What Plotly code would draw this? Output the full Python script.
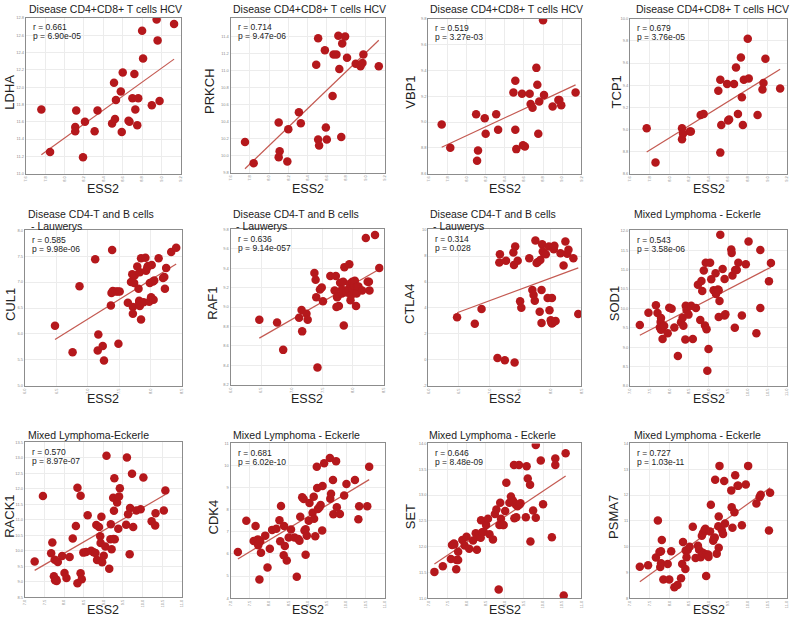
import numpy as np
import plotly.graph_objects as go

W, H = 791, 623
RED = "#b5181c"
LINE_RED = "#c45a52"
FONT = "Liberation Sans, Arial, Helvetica, sans-serif"

# ---------------- data ----------------
hcv_title = "Disease CD4+CD8+ T cells HCV"
lau_title1 = "Disease CD4-T and B cells"
lau_title2 = "- Lauwerys"
eck_title = "Mixed Lymphoma - Eckerle"
eck_title_b = "Mixed Lymphoma-Eckerle"

hcv_xticks = [7.6, 7.8, 8.0, 8.2, 8.4, 8.6, 8.8, 9.0, 9.2]
lau_xticks = [6.0, 6.5, 7.0, 7.5, 8.0, 8.5]
eck_xticks = [7.0, 7.5, 8.0, 8.5, 9.0, 9.5, 10.0, 10.5, 11.0]

ldha_x = [7.76,7.85,8.12,8.11,8.11,8.21,8.19,8.34,8.31,8.49,8.52,8.51,8.53,8.58,8.60,8.59,8.66,8.67,8.70,8.72,8.73,8.75,8.76,8.80,8.81,8.90,8.95,8.96,8.98,9.13]
ldha_y = [11.74,11.25,11.73,11.54,11.49,11.60,11.19,11.73,11.49,11.58,11.63,12.05,11.85,11.95,12.17,11.48,11.61,11.60,11.87,12.15,11.74,11.56,11.87,12.65,12.33,11.79,12.78,12.54,11.84,12.73]
ldha_yticks = [11.0,11.2,11.4,11.6,11.8,12.0,12.2,12.4,12.6,12.8]

prkch_x = [7.75,7.84,8.10,8.11,8.10,8.19,8.20,8.31,8.33,8.49,8.51,8.51,8.52,8.58,8.59,8.60,8.66,8.67,8.70,8.72,8.73,8.75,8.76,8.79,8.81,8.90,8.95,8.97,8.98,9.14]
prkch_y = [10.16,9.91,10.39,10.05,9.98,9.93,10.31,10.51,10.38,11.07,11.38,10.19,10.12,11.24,10.33,10.19,10.70,11.19,11.19,11.41,11.02,10.22,11.32,11.40,11.15,11.08,11.05,11.09,11.19,11.05]
prkch_yticks = [9.8,10.0,10.2,10.4,10.6,10.8,11.0,11.2,11.4]

vbp1_x = [7.74,7.83,8.10,8.12,8.11,8.19,8.20,8.31,8.33,8.49,8.51,8.51,8.52,8.58,8.59,8.61,8.66,8.67,8.69,8.73,8.74,8.75,8.76,8.80,8.81,8.90,8.96,8.97,8.99,9.14]
vbp1_y = [8.98,8.80,9.06,8.78,8.70,9.03,8.91,9.06,8.94,9.23,9.32,8.94,8.79,9.22,8.82,8.81,9.22,9.14,9.11,9.42,9.29,8.91,9.16,9.79,9.21,9.12,9.17,9.17,9.13,9.23]
vbp1_yticks = [8.6,8.8,9.0,9.2,9.4,9.6,9.8]

tcp1_x = [7.77,7.86,8.13,8.13,8.14,8.21,8.22,8.32,8.35,8.50,8.52,8.52,8.53,8.59,8.60,8.61,8.66,8.68,8.70,8.73,8.74,8.75,8.76,8.80,8.81,8.90,8.95,8.96,8.98,9.13]
tcp1_y = [9.01,8.70,9.01,8.91,8.96,8.98,8.98,9.13,9.14,9.35,9.45,8.79,9.04,9.41,9.08,9.09,9.41,9.56,9.14,9.65,9.29,9.04,9.45,9.82,9.46,9.13,9.36,9.42,9.64,9.37]
tcp1_yticks = [8.6,8.8,9.0,9.2,9.4,9.6,9.8,10.0]

cul1_x = [6.48,6.76,6.87,7.12,7.16,7.17,7.24,7.26,7.37,7.39,7.38,7.40,7.45,7.48,7.49,7.51,7.64,7.69,7.71,7.72,7.72,7.74,7.75,7.79,7.81,7.82,7.82,7.83,7.83,7.85,7.85,7.89,7.92,7.93,7.95,7.96,7.98,7.99,8.01,8.02,8.04,8.05,8.06,8.13,8.20,8.22,8.23,8.25,8.33,8.41]
cul1_y = [6.16,5.65,6.92,7.44,5.68,5.99,5.77,5.49,6.55,7.62,6.79,6.83,6.82,6.82,5.81,6.82,6.60,7.00,7.15,6.52,6.39,6.98,7.13,7.30,6.87,6.60,6.64,6.54,7.19,6.28,7.46,6.61,7.47,7.22,7.28,7.31,6.62,6.98,6.71,7.33,7.01,6.66,7.03,7.46,7.08,7.10,6.87,7.27,7.58,7.66]
cul1_yticks = [5.0,5.5,6.0,6.5,7.0,7.5,8.0]

raf1_x = [6.47,6.76,6.86,7.12,7.16,7.17,7.24,7.26,7.37,7.39,7.40,7.42,7.46,7.49,7.51,7.63,7.70,7.72,7.73,7.74,7.75,7.77,7.79,7.82,7.82,7.84,7.85,7.86,7.89,7.90,7.93,7.94,7.95,7.96,7.97,7.99,8.00,8.02,8.03,8.05,8.06,8.07,8.09,8.15,8.21,8.24,8.26,8.27,8.36,8.43]
raf1_y = [8.87,8.84,8.56,8.89,8.97,8.75,8.93,8.87,9.35,9.28,9.10,8.38,9.18,9.20,9.06,9.32,9.17,9.32,9.00,9.10,9.11,9.01,9.25,9.14,9.18,9.26,8.81,9.41,9.17,9.15,9.18,9.44,9.24,9.07,9.12,9.26,9.18,9.22,9.27,9.01,9.14,9.21,9.21,9.17,9.71,9.26,9.26,9.17,9.74,9.40]
raf1_yticks = [8.2,8.4,8.6,8.8,9.0,9.2,9.4,9.6,9.8]

ctla4_x = [6.47,6.76,6.87,7.13,7.16,7.17,7.25,7.27,7.39,7.40,7.41,7.42,7.46,7.50,7.52,7.65,7.70,7.72,7.74,7.75,7.77,7.79,7.82,7.83,7.85,7.85,7.86,7.87,7.89,7.92,7.95,7.97,7.98,8.00,8.01,8.02,8.02,8.04,8.05,8.06,8.08,8.16,8.21,8.24,8.27,8.29,8.37,8.45]
ctla4_y = [3.28,2.79,3.92,0.14,7.50,8.14,-0.02,7.63,8.27,7.32,-0.20,8.73,7.63,4.51,4.02,7.83,5.39,5.00,4.56,9.20,7.47,7.55,3.71,7.70,5.39,2.84,8.91,8.35,8.22,8.14,4.77,8.73,3.82,3.05,2.89,2.81,4.77,2.89,8.53,8.79,2.99,8.22,7.27,9.12,8.17,8.48,7.83,3.53]
ctla4_yticks = [-2,0,2,4,6,8,10]

sod1_x = [7.25,7.47,7.66,7.70,7.76,7.78,7.79,7.79,7.83,7.84,7.87,7.96,8.00,8.06,8.13,8.22,8.30,8.34,8.36,8.41,8.42,8.44,8.49,8.56,8.60,8.68,8.73,8.79,8.82,8.84,8.88,8.91,8.93,8.95,8.97,9.00,9.04,9.07,9.13,9.18,9.19,9.21,9.24,9.26,9.26,9.28,9.30,9.36,9.41,9.41,9.43,9.58,9.59,9.61,9.67,9.68,9.72,9.76,9.85,9.95,10.02,10.22,10.32,10.32,10.54,10.59]
sod1_y = [9.57,9.89,10.08,9.88,9.51,9.65,9.75,9.45,9.21,9.52,9.55,9.36,10.02,9.99,9.51,8.77,9.64,9.76,9.55,9.20,10.07,9.96,9.84,10.07,9.21,10.01,10.61,9.70,10.71,10.45,10.98,9.56,11.18,9.46,8.39,8.95,11.18,10.75,10.47,10.91,10.37,10.44,10.49,9.78,10.47,10.19,11.90,11.02,10.76,9.82,9.85,11.52,11.43,10.85,9.50,10.99,10.99,11.18,9.82,11.14,11.73,9.36,11.51,10.01,10.70,11.17]
sod1_yticks = [8.0,8.5,9.0,9.5,10.0,10.5,11.0,11.5,12.0]

rack1_x = [7.25,7.46,7.70,7.67,7.74,7.76,7.77,7.80,7.81,7.84,7.95,8.01,8.06,8.14,8.22,8.30,8.34,8.34,8.42,8.42,8.45,8.49,8.56,8.60,8.69,8.75,8.80,8.82,8.84,8.89,8.92,8.93,8.95,8.97,9.01,9.05,9.08,9.15,9.18,9.19,9.21,9.25,9.26,9.27,9.28,9.29,9.35,9.38,9.40,9.42,9.58,9.60,9.63,9.67,9.68,9.73,9.76,9.84,9.95,10.02,10.23,10.32,10.33,10.54,10.58]
rack1_y = [9.65,11.77,10.27,9.92,9.18,9.71,9.05,9.07,9.02,9.64,9.83,9.28,9.12,9.80,10.40,10.80,12.04,8.95,9.27,11.78,9.08,9.94,9.96,11.15,10.00,9.95,9.93,10.83,9.70,10.77,10.47,10.25,11.10,9.63,9.84,10.14,13.07,9.42,10.37,10.86,10.05,11.71,10.38,11.29,12.34,10.37,11.56,10.71,11.75,12.02,10.84,13.01,11.18,9.89,11.38,12.49,10.77,11.30,11.34,12.37,10.95,10.82,11.21,11.30,11.95]
rack1_yticks = [8.5,9.0,9.5,10.0,10.5,11.0,11.5,12.0,12.5,13.0,13.5]

cdk4_x = [7.19,7.41,7.65,7.60,7.71,7.72,7.77,7.79,7.75,7.90,7.96,8.02,8.08,8.19,8.27,8.29,8.31,8.38,8.39,8.41,8.46,8.51,8.57,8.66,8.72,8.76,8.79,8.81,8.86,8.90,8.92,8.95,8.95,8.98,9.03,9.05,9.13,9.16,9.17,9.20,9.24,9.25,9.27,9.31,9.34,9.38,9.39,9.43,9.58,9.59,9.61,9.66,9.67,9.74,9.76,9.84,9.95,10.01,10.23,10.32,10.34,10.55,10.60]
cdk4_y = [6.09,7.50,7.27,6.59,6.66,6.39,6.57,6.06,4.85,6.83,5.39,6.24,7.09,7.14,7.53,6.57,8.17,5.94,7.26,6.36,5.70,6.74,7.11,6.75,4.97,6.68,6.60,7.68,8.57,8.49,7.06,7.12,5.97,6.83,7.50,8.31,7.86,8.59,7.59,6.80,9.94,8.98,8.04,8.11,8.22,7.06,9.08,10.10,10.34,8.50,8.72,9.35,7.80,10.20,8.11,7.81,8.65,9.17,9.35,7.57,8.16,8.16,9.95]
cdk4_yticks = [4,5,6,7,8,9,10,11]

set_x = [7.16,7.38,7.59,7.62,7.67,7.68,7.73,7.74,7.78,7.78,7.89,7.95,8.00,8.07,8.17,8.24,8.27,8.30,8.34,8.37,8.38,8.41,8.45,8.51,8.56,8.60,8.69,8.74,8.78,8.84,8.86,8.88,8.90,8.95,8.97,9.01,9.04,9.12,9.16,9.20,9.23,9.24,9.25,9.29,9.30,9.33,9.37,9.38,9.41,9.55,9.57,9.60,9.66,9.67,9.74,9.81,9.81,9.94,10.00,10.23,10.32,10.32,10.54,10.59]
set_y = [11.51,11.62,11.76,12.03,12.06,12.04,11.56,11.74,11.74,11.90,12.13,12.02,12.19,11.96,12.12,12.26,11.94,12.19,12.22,12.17,12.51,12.28,12.29,12.42,12.54,12.24,12.14,12.63,12.72,11.17,12.42,12.85,12.54,12.42,12.42,12.69,13.24,12.85,12.97,12.90,12.87,13.58,12.55,12.81,12.57,12.78,13.58,12.81,12.84,12.57,13.56,13.32,13.20,12.10,12.70,13.97,12.56,13.67,12.82,12.18,13.71,13.58,11.05,13.81]
set_yticks = [11.0,11.5,12.0,12.5,13.0,13.5,14.0]

psma7_x = [7.25,7.46,7.66,7.71,7.77,7.79,7.75,7.79,7.81,7.85,7.96,8.00,8.05,8.13,8.21,8.30,8.33,8.35,8.41,8.42,8.44,8.47,8.52,8.60,8.67,8.73,8.76,8.80,8.83,8.84,8.86,8.88,8.90,8.92,8.94,8.94,8.99,9.00,9.04,9.06,9.12,9.14,9.16,9.17,9.21,9.25,9.26,9.26,9.28,9.34,9.37,9.40,9.42,9.58,9.59,9.61,9.66,9.68,9.74,9.76,9.85,9.95,10.01,10.22,10.30,10.33,10.54,10.57]
psma7_y = [9.22,9.28,9.58,11.01,9.21,9.35,9.79,9.82,10.26,8.72,9.33,8.72,9.82,8.42,8.51,8.77,9.33,10.18,9.13,9.85,9.59,9.87,9.99,10.77,9.56,10.03,9.88,9.59,10.42,9.77,10.53,9.73,10.64,10.69,9.69,8.86,9.69,9.60,10.59,11.62,10.23,10.32,10.35,12.59,9.72,10.79,9.96,11.17,13.13,10.63,10.49,12.54,10.90,12.18,11.53,10.73,11.33,12.77,12.36,12.36,10.83,12.41,13.13,11.67,11.92,12.01,10.62,12.09]
psma7_yticks = [8,9,10,11,12,13,14]

genes = ["LDHA", "PRKCH", "VBP1", "TCP1", "CUL1", "RAF1", "CTLA4", "SOD1",
         "RACK1", "CDK4", "SET", "PSMA7"]
r_labels = ["r = 0.661", "r = 0.714", "r = 0.519", "r = 0.679", "r = 0.585", "r = 0.636",
            "r = 0.314", "r = 0.543", "r = 0.570", "r = 0.681", "r = 0.646", "r = 0.727"]
p_labels = ["p = 6.90e-05", "p = 9.47e-06", "p = 3.27e-03", "p = 3.76e-05", "p = 9.98e-06",
            "p = 9.14e-057", "p = 0.028", "p = 3.58e-06", "p = 8.97e-07", "p = 6.02e-10",
            "p = 8.48e-09", "p = 1.03e-11"]

# ---------------- layout of panels (pixels) ----------------
panels = [
    dict(x=ldha_x, y=ldha_y, xt=hcv_xticks, xr=(7.6, 9.2), yt=ldha_yticks, yr=(11.0, 12.8), fmt=".1f",
         box=(23, 179, 15, 172), title=[hcv_title], tx=24, ty=6, ylx=7, xly=188),
    dict(x=prkch_x, y=prkch_y, xt=hcv_xticks, xr=(7.6, 9.2), yt=prkch_yticks, yr=(9.8, 11.62), fmt=".1f",
         box=(229, 384, 15, 171), title=[hcv_title], tx=229, ty=6, ylx=208, xly=188),
    dict(x=vbp1_x, y=vbp1_y, xt=hcv_xticks, xr=(7.6, 9.2), yt=vbp1_yticks, yr=(8.6, 9.8), fmt=".1f",
         box=(428, 582, 16, 172), title=[hcv_title], tx=428, ty=6, ylx=410, xly=188),
    dict(x=tcp1_x, y=tcp1_y, xt=hcv_xticks, xr=(7.6, 9.2), yt=tcp1_yticks, yr=(8.6, 10.0), fmt=".1f",
         box=(631, 789, 16, 172), title=[hcv_title], tx=635, ty=6, ylx=617, xly=188),
    dict(x=cul1_x, y=cul1_y, xt=lau_xticks, xr=(6.0, 8.5), yt=cul1_yticks, yr=(5.0, 8.0), fmt=".1f",
         box=(22, 180, 229, 386), title=[lau_title1, lau_title2], tx=23, ty=213, ylx=7, xly=399),
    dict(x=raf1_x, y=raf1_y, xt=lau_xticks, xr=(6.0, 8.5), yt=raf1_yticks, yr=(8.2, 9.8), fmt=".1f",
         box=(229, 383, 228, 385), title=[lau_title1, lau_title2], tx=229, ty=213, ylx=210, xly=399),
    dict(x=ctla4_x, y=ctla4_y, xt=lau_xticks, xr=(6.0, 8.5), yt=ctla4_yticks, yr=(-2, 10.07), fmt="d",
         box=(428, 582, 228, 386), title=[lau_title1, lau_title2], tx=428, ty=213, ylx=409, xly=399),
    dict(x=sod1_x, y=sod1_y, xt=eck_xticks, xr=(7.0, 11.0), yt=sod1_yticks, yr=(8.0, 12.02), fmt=".1f",
         box=(631, 789, 229, 386), title=[eck_title], tx=633, ty=213, ylx=615, xly=399),
    dict(x=rack1_x, y=rack1_y, xt=eck_xticks, xr=(7.0, 11.0), yt=rack1_yticks, yr=(8.5, 13.5), fmt=".1f",
         box=(22, 180, 443, 599), title=[eck_title_b], tx=23, ty=435, ylx=7, xly=612),
    dict(x=cdk4_x, y=cdk4_y, xt=eck_xticks, xr=(7.0, 11.0), yt=cdk4_yticks, yr=(4, 11), fmt="d",
         box=(229, 384, 444, 600), title=[eck_title], tx=229, ty=435, ylx=212, xly=612),
    dict(x=set_x, y=set_y, xt=eck_xticks, xr=(7.0, 11.0), yt=set_yticks, yr=(11.0, 14.0), fmt=".1f",
         box=(428, 582, 444, 600), title=[eck_title], tx=427, ty=435, ylx=410, xly=612),
    dict(x=psma7_x, y=psma7_y, xt=eck_xticks, xr=(7.0, 11.0), yt=psma7_yticks, yr=(8, 14), fmt="d",
         box=(631, 789, 444, 600), title=[eck_title], tx=633, ty=435, ylx=615, xly=612),
]

fig = go.Figure()
annotations = []
layout = {}


def px(v):
    return v / W


def py(v):
    return 1 - v / H


for i, p in enumerate(panels, start=1):
    xa = "x" if i == 1 else f"x{i}"
    ya = "y" if i == 1 else f"y{i}"
    xs = np.array(p["x"])
    ys = np.array(p["y"])
    slope, icpt = np.polyfit(xs, ys, 1)
    lx = [xs.min(), xs.max()]
    ly = [slope * lx[0] + icpt, slope * lx[1] + icpt]
    fig.add_trace(go.Scatter(x=lx, y=ly, mode="lines", xaxis=xa, yaxis=ya,
                             line=dict(color=LINE_RED, width=1.2), showlegend=False,
                             hoverinfo="skip"))
    fig.add_trace(go.Scatter(x=p["x"], y=p["y"], mode="markers", xaxis=xa, yaxis=ya,
                             marker=dict(size=8.5, color=RED, line=dict(width=0)),
                             showlegend=False))
    L, R, T, B = p["box"]
    layout[f"xaxis{i}"] = dict(
        domain=[px(L), px(R)], anchor=ya, range=list(p["xr"]),
        tickvals=p["xt"], ticktext=[format(v, ".1f") for v in p["xt"]],
        tickangle=-90, tickfont=dict(size=4, color="#8a8a8a", family=FONT),
        showgrid=True, gridcolor="#ececec", gridwidth=1, zeroline=False,
        showline=True, mirror=True, linecolor="#8c8c8c", linewidth=1,
        ticks="", fixedrange=True)
    if p["fmt"] == "d":
        yt_text = [str(int(v)) for v in p["yt"]]
    else:
        yt_text = [format(v, p["fmt"]) for v in p["yt"]]
    layout[f"yaxis{i}"] = dict(
        domain=[py(B), py(T)], anchor=xa, range=list(p["yr"]),
        tickvals=p["yt"], ticktext=yt_text,
        tickfont=dict(size=4, color="#8a8a8a", family=FONT),
        showgrid=True, gridcolor="#ececec", gridwidth=1, zeroline=False,
        showline=True, mirror=True, linecolor="#8c8c8c", linewidth=1,
        ticks="", fixedrange=True)

    for k, line in enumerate(p["title"]):
        annotations.append(dict(
            text=line, xref="paper", yref="paper",
            x=px(p["tx"] + (3 if k > 0 else 0)), y=py(p["ty"] + 12 * k),
            xanchor="left", yanchor="middle", showarrow=False,
            font=dict(size=10.5, color="#222", family=FONT)))
    annotations.append(dict(text=r_labels[i - 1], xref="paper", yref="paper",
                            x=px(L + 5), y=py(T + 9.5), xanchor="left", yanchor="middle",
                            showarrow=False, font=dict(size=8.5, color="#222", family=FONT)))
    annotations.append(dict(text=p_labels[i - 1], xref="paper", yref="paper",
                            x=px(L + 5), y=py(T + 18.5), xanchor="left", yanchor="middle",
                            showarrow=False, font=dict(size=8.5, color="#222", family=FONT)))
    annotations.append(dict(text="ESS2", xref="paper", yref="paper",
                            x=px((L + R) / 2), y=py(p["xly"]), xanchor="center", yanchor="middle",
                            showarrow=False, font=dict(size=12.5, color="#222", family=FONT)))
    annotations.append(dict(text=genes[i - 1], xref="paper", yref="paper",
                            x=px(p["ylx"]), y=py((T + B) / 2 - 4), xanchor="center",
                            yanchor="middle", textangle=-90,
                            showarrow=False, font=dict(size=13, color="#222", family=FONT)))

fig.update_layout(
    width=W, height=H, margin=dict(l=0, r=0, t=0, b=0),
    paper_bgcolor="white", plot_bgcolor="white", hovermode=False,
    font=dict(family=FONT), annotations=annotations, **layout)

fig.write_html("out.html", config={"displayModeBar": False, "staticPlot": True},
               post_script="document.body.style.margin='0';document.body.style.overflow='hidden';")
